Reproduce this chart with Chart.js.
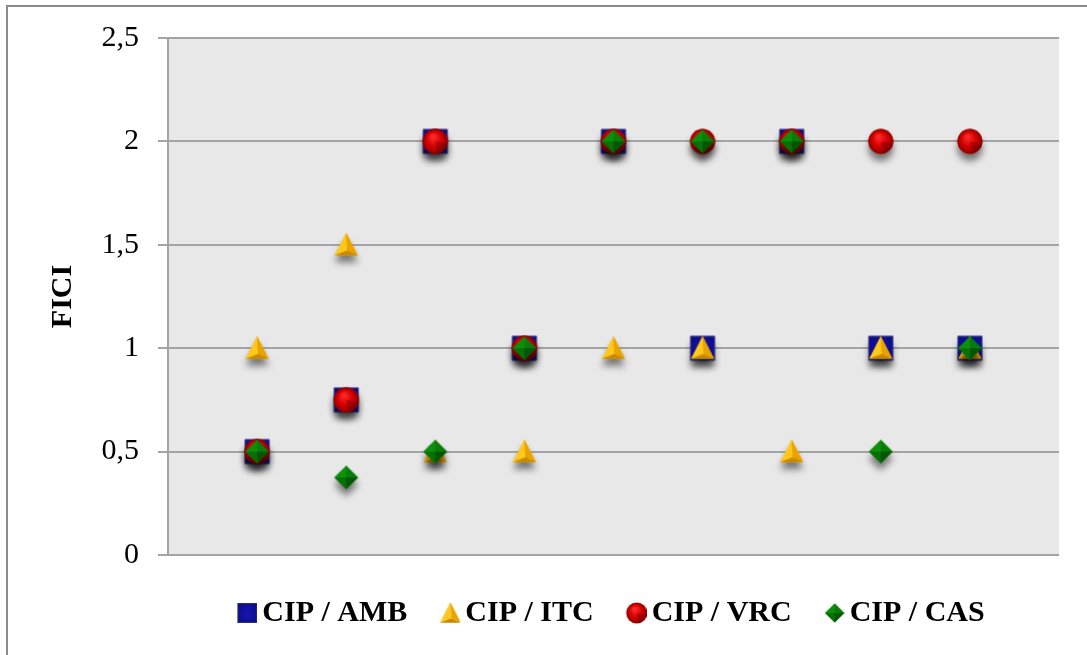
<!DOCTYPE html>
<html>
<head>
<meta charset="utf-8">
<script src="https://cdn.jsdelivr.net/npm/chart.js@4/dist/chart.umd.min.js"></script>
<style>
  html, body { margin: 0; padding: 0; background: #ffffff; overflow: hidden; }
  #wrap { position: relative; width: 1087px; height: 655px; overflow: hidden; }
  #frame { position: absolute; left: 6px; top: 5px; width: 1200px; height: 800px; border: 2.5px solid #8a8a8a; box-sizing: border-box; }
  #c { position: absolute; left: 0; top: 0; }
</style>
</head>
<body>
<div id="wrap">
  <div id="frame"></div>
  <canvas id="c" width="1087" height="655"></canvas>
</div>
<script>
// ---- data ----
const categories = ['1', '2', '3', '4', '5', '6', '7', '8', '9'];
const seriesNames = ['CIP / AMB', 'CIP / ITC', 'CIP / VRC', 'CIP / CAS'];
const cipAmb = [0.5, 0.75, 2, 1, 2, 1, 2, 1, 1];
const cipItc = [1, 1.5, 0.5, 0.5, 1, 1, 0.5, 1, 1];
const cipVrc = [0.5, 0.75, 2, 1, 2, 2, 2, 2, 2];
const cipCas = [0.5, 0.375, 0.5, 1, 2, 2, 2, 0.5, 1];
const yTickValues = [0, 0.5, 1, 1.5, 2, 2.5];
const yTickLabels = ['0', '0,5', '1', '1,5', '2', '2,5'];
const yTitle = 'FICI';

// ---- marker artwork ----
function shapePath(g, kind, cx, cy, h) {
  g.beginPath();
  if (kind === 'square') {
    g.rect(cx - h, cy - h, 2 * h, 2 * h);
  } else if (kind === 'circle') {
    g.arc(cx, cy, h, 0, Math.PI * 2);
  } else if (kind === 'triangle') {
    g.moveTo(cx, cy - h * 1.05);
    g.lineTo(cx + h, cy + h * 0.92);
    g.lineTo(cx - h, cy + h * 0.92);
    g.closePath();
  } else if (kind === 'diamond') {
    g.moveTo(cx, cy - h);
    g.lineTo(cx + h, cy);
    g.lineTo(cx, cy + h);
    g.lineTo(cx - h, cy);
    g.closePath();
  }
}
function facet(g, pts, color) {
  g.beginPath();
  g.moveTo(pts[0][0], pts[0][1]);
  for (let i = 1; i < pts.length; i++) g.lineTo(pts[i][0], pts[i][1]);
  g.closePath();
  g.fillStyle = color;
  g.fill();
}
const baseColor = { square: '#10109e', triangle: '#f0b000', circle: '#cc0000', diamond: '#0a7a0a' };
function drawMarker(g, kind, cx, cy, h, shadow) {
  if (shadow) {
    g.save();
    g.shadowColor = 'rgba(0,0,0,0.5)';
    g.shadowBlur = 7;
    g.shadowOffsetY = 7;
    shapePath(g, kind, cx, cy, h);
    g.fillStyle = baseColor[kind];
    g.fill();
    g.restore();
  }
  if (kind === 'square') {
    g.fillStyle = '#0f0fa2';
    g.fillRect(cx - h, cy - h, 2 * h, 2 * h);
    const grd = g.createRadialGradient(cx, cy, h * 0.3, cx, cy, h * 1.4);
    grd.addColorStop(0, 'rgba(30,30,190,0.35)');
    grd.addColorStop(1, 'rgba(0,0,60,0.35)');
    g.fillStyle = grd;
    g.fillRect(cx - h, cy - h, 2 * h, 2 * h);
    g.lineWidth = 1;
    g.strokeStyle = 'rgba(50,50,110,0.85)';
    g.strokeRect(cx - h + 0.5, cy - h + 0.5, 2 * h - 1, 2 * h - 1);
  } else if (kind === 'circle') {
    const grd = g.createRadialGradient(cx - h * 0.2, cy - h * 0.4, 1, cx, cy, h);
    grd.addColorStop(0, '#ff2a2a');
    grd.addColorStop(0.55, '#d60000');
    grd.addColorStop(1, '#8c0000');
    shapePath(g, 'circle', cx, cy, h);
    g.fillStyle = grd;
    g.fill();
    g.save();
    shapePath(g, 'circle', cx, cy, h);
    g.clip();
    facet(g, [[cx, cy], [cx + h * 1.2, cy + h * 0.2], [cx + h * 0.2, cy + h * 1.2]], 'rgba(90,0,0,0.35)');
    g.restore();
  } else if (kind === 'triangle') {
    const a = [cx, cy - h * 1.05], r = [cx + h, cy + h * 0.92], l = [cx - h, cy + h * 0.92], c = [cx + h * 0.08, cy + h * 0.5];
    facet(g, [a, l, c], '#ffc81e');
    facet(g, [a, r, c], '#e9a300');
    facet(g, [l, r, c], '#c88900');
  } else if (kind === 'diamond') {
    const t = [cx, cy - h], r = [cx + h, cy], b = [cx, cy + h], l = [cx - h, cy], c = [cx, cy];
    facet(g, [t, l, c], '#0c900c');
    facet(g, [t, r, c], '#0a7c0a');
    facet(g, [l, b, c], '#077007');
    facet(g, [r, b, c], '#045604');
  }
}
function pointImage(kind, h) {
  const cv = document.createElement('canvas');
  cv.width = 56; cv.height = 56;
  drawMarker(cv.getContext('2d'), kind, 28, 28, h, true);
  return cv;
}
// legend image: marker sits at the right end so the label follows closely
const LEGEND_W = 5;
function legendImage(kind, h) {
  const cv = document.createElement('canvas');
  cv.width = LEGEND_W + 20; cv.height = 24;
  drawMarker(cv.getContext('2d'), kind, cv.width - 10, 12, h, false);
  return cv;
}
const kinds = ['square', 'triangle', 'circle', 'diamond'];
const pointSizes = { square: 12.2, triangle: 11.5, circle: 12.5, diamond: 11.8 };
const legendSizes = { square: 10, triangle: 10.5, circle: 10.5, diamond: 9.8 };
const pointImgs = kinds.map(k => pointImage(k, pointSizes[k]));
const legendImgs = kinds.map(k => legendImage(k, legendSizes[k]));

const seriesValues = [cipAmb, cipItc, cipVrc, cipCas];
const drawOrder = [4, 3, 2, 1]; // diamonds on top, squares underneath

const datasets = seriesValues.map((vals, s) => ({
  label: seriesNames[s],
  data: vals.map((v, i) => ({ x: i + 1, y: v })),
  pointStyle: pointImgs[s],
  pointRadius: 12,
  pointHoverRadius: 12,
  showLine: false,
  order: drawOrder[s],
  backgroundColor: baseColor[kinds[s]],
  borderColor: baseColor[kinds[s]]
}));

const plotBg = {
  id: 'plotBg',
  beforeDraw(chart) {
    const { ctx, chartArea: a } = chart;
    ctx.save();
    ctx.fillStyle = '#e8e8e8';
    ctx.fillRect(a.left, a.top, a.right - a.left, a.bottom - a.top);
    ctx.restore();
  }
};

new Chart(document.getElementById('c'), {
  type: 'scatter',
  data: { datasets },
  plugins: [plotBg],
  options: {
    responsive: false,
    animation: false,
    devicePixelRatio: 1,
    layout: { padding: { top: 38, right: 28, left: 0, bottom: 17 } },
    scales: {
      x: {
        type: 'linear',
        min: 0,
        max: categories.length + 1,
        grid: { display: false, drawTicks: false },
        border: { display: false },
        ticks: { display: false },
        afterFit(scale) { scale.height = 5; }
      },
      y: {
        min: 0,
        max: 2.5,
        afterBuildTicks(scale) { scale.ticks = yTickValues.map(v => ({ value: v })); },
        ticks: {
          color: '#000000',
          padding: 19,
          font: { family: 'Liberation Serif', size: 30 },
          callback: (v) => yTickLabels[yTickValues.indexOf(v)]
        },
        grid: { color: '#a4a4a4', lineWidth: 2, tickLength: 10, drawTicks: true },
        border: { color: '#a4a4a4', width: 2 },
        title: {
          display: true,
          text: yTitle,
          color: '#000000',
          font: { family: 'Liberation Serif', size: 30, weight: 'bold' },
          padding: { top: 45, bottom: 0 }
        },
        afterFit(scale) { scale.width = 168; }
      }
    },
    plugins: {
      tooltip: { enabled: false },
      legend: {
        position: 'bottom',
        fullSize: false,
        labels: {
          usePointStyle: true,
          pointStyleWidth: LEGEND_W,
          padding: 38,
          color: '#000000',
          font: { family: 'Liberation Serif', size: 30, weight: 'bold' },
          generateLabels(chart) {
            const items = Chart.defaults.plugins.legend.labels.generateLabels(chart);
            items.sort((a, b) => a.datasetIndex - b.datasetIndex);
            items.forEach(it => { it.pointStyle = legendImgs[it.datasetIndex]; it.lineWidth = 0; });
            return items;
          }
        }
      }
    }
  }
});
</script>
</body>
</html>
